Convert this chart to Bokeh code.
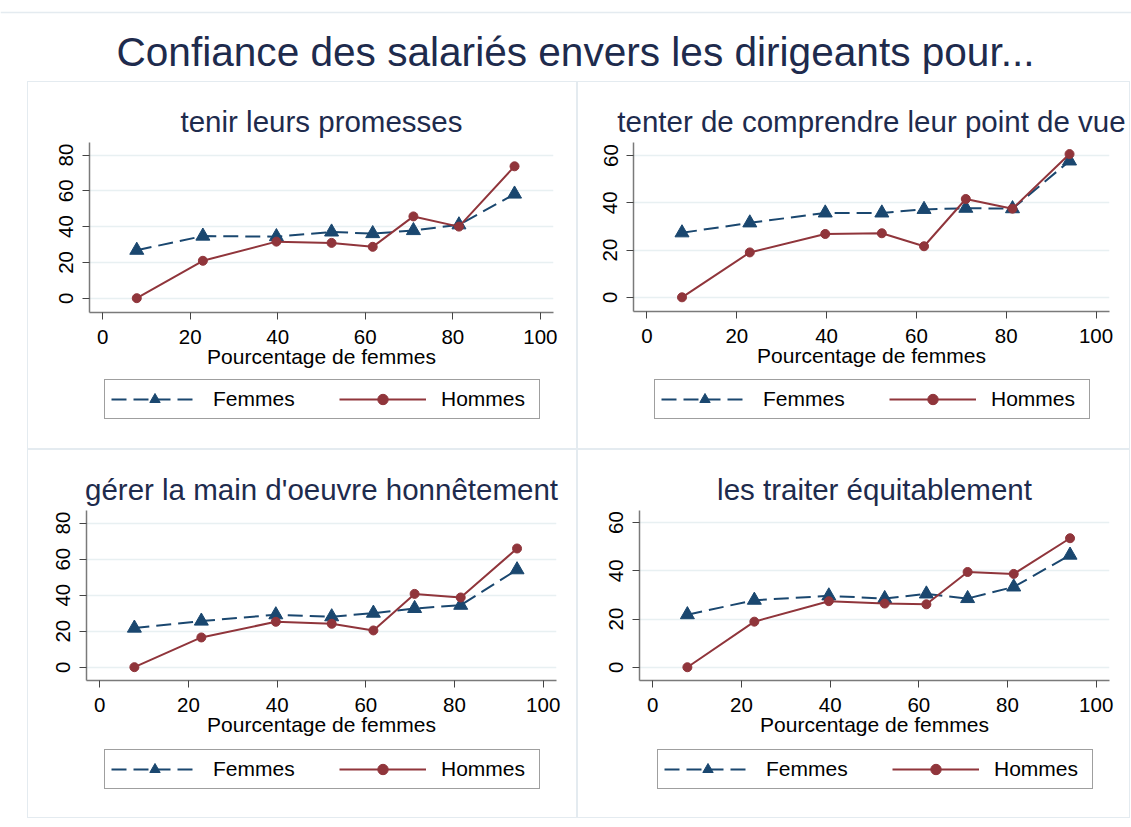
from bokeh.plotting import figure
from bokeh.models import Range1d, FixedTicker, Legend, LegendItem, Label, Span
from bokeh.layouts import column, row
from bokeh.embed import file_html
from bokeh.resources import INLINE

# ---------------- data ----------------
main_title = "Confiance des salariés envers les dirigeants pour..."
x_label = "Pourcentage de femmes"
series_names = ["Femmes", "Hommes"]
x_pct = [7.8, 22.9, 39.7, 52.3, 61.7, 71.0, 81.4, 94.1]
x_ticks = [0, 20, 40, 60, 80, 100]

title_1 = "tenir leurs promesses"
femmes_1 = [26.8, 34.7, 34.4, 37.0, 36.1, 37.8, 41.0, 58.2]
hommes_1 = [0.0, 20.9, 31.6, 30.9, 28.7, 45.7, 40.0, 73.7]
y_ticks_1 = [0, 20, 40, 60, 80]

title_2 = "tenter de comprendre leur point de vue"
femmes_2 = [27.3, 31.5, 35.7, 35.7, 37.2, 37.7, 37.5, 57.7]
hommes_2 = [0.0, 19.0, 26.8, 27.1, 21.6, 41.6, 37.5, 60.6]
y_ticks_2 = [0, 20, 40, 60]

title_3 = "gérer la main d'oeuvre honnêtement"
femmes_3 = [21.7, 25.6, 29.1, 28.0, 30.0, 32.6, 34.4, 54.1]
hommes_3 = [0.0, 16.5, 25.2, 24.1, 20.4, 40.7, 38.7, 65.9]
y_ticks_3 = [0, 20, 40, 60, 80]

title_4 = "les traiter équitablement"
femmes_4 = [21.8, 27.8, 29.6, 28.5, 30.4, 28.5, 33.3, 46.5]
hommes_4 = [0.0, 18.9, 27.4, 26.4, 26.1, 39.5, 38.7, 53.5]
y_ticks_4 = [0, 20, 40, 60]

# ---------------- style ----------------
FONT = "Liberation Sans"
NAVY = "#1a476f"
MAROON = "#90353b"
TITLE_C = "#1e2b4d"
GRID_C = "#e8f0f2"
PANEL_C = "#e4ebf0"
DASH = "15 7"


def box_css(left, top, right, bottom):
    return [":host::after { content: ''; position: absolute; "
            f"left: {left}px; top: {top}px; right: {right}px; bottom: {bottom}px; "
            f"border: 1.5px solid {PANEL_C}; pointer-events: none; }}"]


def blank(w, h, xr=(0, 1), yr=(0, 1)):
    f = figure(width=w, height=h, x_range=Range1d(*xr), y_range=Range1d(*yr),
               output_backend="svg", toolbar_location=None, title=None,
               x_axis_location=None, y_axis_location=None,
               min_border_left=0, min_border_right=0, min_border_top=0, min_border_bottom=0)
    f.outline_line_color = None
    f.xgrid.visible = False
    f.ygrid.visible = False
    f.background_fill_color = "white"
    f.border_fill_color = "white"
    return f


def panel(title, fem, hom, yticks, yr, w, h, left, right, top, bottom):
    p = figure(width=w, height=h, x_range=Range1d(-3, 103), y_range=Range1d(*yr),
               output_backend="svg", toolbar_location=None,
               min_border_left=left, min_border_right=right,
               min_border_top=top, min_border_bottom=bottom)
    p.background_fill_color = "white"
    p.border_fill_color = "white"
    p.outline_line_color = None

    p.title.text = title
    p.title.align = "center"
    p.title.text_font = FONT
    p.title.text_font_size = "29.5px"
    p.title.text_font_style = "normal"
    p.title.text_color = TITLE_C
    p.title.standoff = 10

    p.xgrid.visible = False
    p.ygrid.grid_line_color = GRID_C
    p.ygrid.grid_line_width = 1.5
    p.ygrid.ticker = FixedTicker(ticks=yticks)

    p.xaxis.ticker = FixedTicker(ticks=x_ticks)
    p.yaxis.ticker = FixedTicker(ticks=yticks)
    for ax in (p.xaxis, p.yaxis):
        ax.minor_tick_line_color = None
        ax.major_tick_in = 0
        ax.major_tick_out = 7
        ax.major_tick_line_color = "#444444"
        ax.major_tick_line_width = 1
        ax.axis_line_color = "#7a7a7a"
        ax.axis_line_width = 1.5
        ax.major_label_text_font = FONT
        ax.major_label_text_font_size = "20.5px"
        ax.major_label_text_color = "black"
    p.yaxis.major_label_orientation = "vertical"
    p.yaxis.major_label_standoff = 9
    p.xaxis.major_label_standoff = 10
    p.xaxis.axis_label = x_label
    p.xaxis.axis_label_text_font = FONT
    p.xaxis.axis_label_text_font_size = "21px"
    p.xaxis.axis_label_text_font_style = "normal"
    p.xaxis.axis_label_text_color = "black"
    p.xaxis.axis_label_standoff = -2

    p.line(x_pct, fem, line_color=NAVY, line_width=2, line_dash=DASH)
    p.scatter(x_pct, fem, marker="triangle", size=14, color=NAVY)
    p.line(x_pct, hom, line_color=MAROON, line_width=2)
    p.scatter(x_pct, hom, marker="circle", size=9, color=MAROON)
    return p


def legend_fig(w, h, lx, ly, fem, hom):
    # ranges chosen so that the series themselves fall outside this strip
    f = blank(w, h, xr=(1000, 2000), yr=(1000, 2000))
    lf = f.line(x_pct, fem, line_color=NAVY, line_width=2, line_dash=DASH)
    sf = f.scatter(x_pct, fem, marker="triangle", size=14, color=NAVY)
    lh = f.line(x_pct, hom, line_color=MAROON, line_width=2)
    sh = f.scatter(x_pct, hom, marker="circle", size=9, color=MAROON)
    legend = Legend(items=[LegendItem(label=series_names[0], renderers=[lf, sf]),
                           LegendItem(label=series_names[1], renderers=[lh, sh])],
                    orientation="horizontal", location=(lx, ly),
                    glyph_width=87, glyph_height=26, label_width=92, label_height=26,
                    label_standoff=15, spacing=34, padding=6, margin=0,
                    border_line_color="#404040", border_line_width=1.5,
                    label_text_font=FONT, label_text_font_size="21px",
                    label_text_color="black",
                    background_fill_color="white", background_fill_alpha=1)
    f.add_layout(legend, "center")
    return f


# title strip
tp = blank(1131, 81, xr=(0, 1131), yr=(0, 81))
tp.add_layout(Label(x=575, y=30, text=main_title, text_align="center",
                    text_baseline="middle", text_font=FONT, text_font_size="40.6px",
                    text_color=TITLE_C))
tp.add_layout(Span(location=69, dimension="width", line_color=PANEL_C, line_width=1.5))

p1 = panel(title_1, femmes_1, hommes_1, y_ticks_1, (-8, 87), 577, 297, 89, 24, 61, 66)
p2 = panel(title_2, femmes_2, hommes_2, y_ticks_2, (-6, 65.5), 554, 297, 56, 22, 61, 67)
p3 = panel(title_3, femmes_3, hommes_3, y_ticks_3, (-7.4, 87), 577, 296, 86, 21, 61, 65)
p4 = panel(title_4, femmes_4, hommes_4, y_ticks_4, (-5.5, 65), 554, 296, 62, 22, 61, 65)

# legend strips (their frames align with the panel frames above them)
l1 = legend_fig(577, 71, 15, 30, femmes_1, hommes_1)
l2 = legend_fig(554, 71, 21, 30, femmes_2, hommes_2)
l3 = legend_fig(577, 73, 18, 29, femmes_3, hommes_3)
l4 = legend_fig(554, 73, 18, 29, femmes_4, hommes_4)

c1 = column(p1, l1, stylesheets=box_css(27, 0, 0, 0))
c2 = column(p2, l2, stylesheets=box_css(0, 0, 1, 0))
c3 = column(p3, l3, stylesheets=box_css(27, 0, 0, 0))
c4 = column(p4, l4, stylesheets=box_css(0, 0, 1, 0))

layout = column(tp, row(c1, c2), row(c3, c4))
open("out.html", "w").write(file_html(layout, INLINE))
